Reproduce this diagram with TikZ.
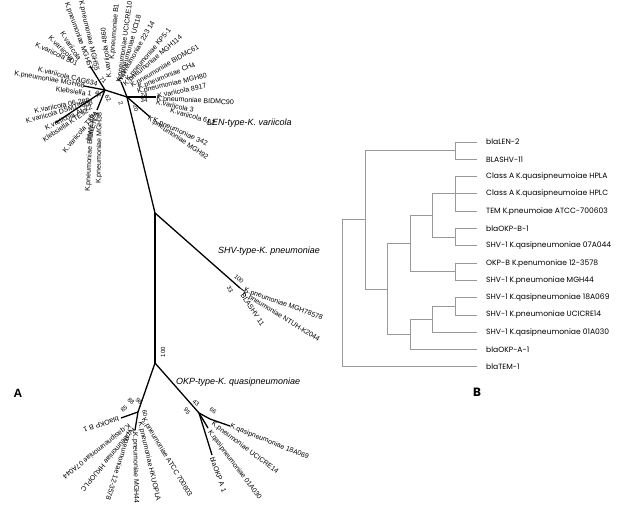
\documentclass[tikz,border=0pt]{standalone}
\usepackage{fontspec}
\setmainfont{Liberation Sans}
\newfontfamily\popfont{Poppins}
\begin{document}
\begin{tikzpicture}[x=1pt,y=-1pt,
  lbl/.style={font=\fontsize{7}{8}\selectfont, inner sep=0.3pt},
  lw/.style={lbl, anchor=west},
  le/.style={lbl, anchor=east},
  boot/.style={font=\fontsize{6}{7}\selectfont, inner sep=0pt},
  br/.style={line width=1.3pt, black},
  clade/.style={font=\fontsize{9}{10}\selectfont\itshape, inner sep=0pt, anchor=west},
  dn/.style={draw=black!40, line width=0.8pt},
  bl/.style={font=\popfont\fontsize{7.6}{9}\selectfont, anchor=west, inner sep=0pt, text=black},
  panel/.style={font=\bfseries\fontsize{12}{14}\selectfont, inner sep=0pt}
]
\useasboundingbox (0,0) rectangle (621,510);

% ---------------- Tree A ----------------
\coordinate (okp) at (155,363);
\coordinate (top) at (155,213);
\coordinate (h1) at (127,97);
\coordinate (shv) at (240,288);
\coordinate (okpA) at (199,413);
\coordinate (okpB) at (138,412);
\draw[br, line width=1.7pt] (top) -- (okp);
\draw[br] (top) -- (h1);
\draw[br] (top) -- (shv);
\draw[br] (okp) -- (okpA);
\draw[br] (okp) -- (okpB);

\node[boot, rotate=90] (b100) at (163,352) {100};
\node[clade] (lenlab) at (207,123) {LEN-type-K. variicola};
\node[clade] (shvlab) at (218,251) {SHV-type-K. pneumoniae};
\node[clade] (okplab) at (176,382) {OKP-type-K. quasipneumoniae};

% SHV cluster
\node[boot, rotate=-40] (s100) at (239,279) {100};
\node[boot, rotate=-60] (s33) at (230,289) {33};
\coordinate (shvtip) at (244,291);
\draw[br, line width=0.8pt] (shv) -- (shvtip);
\node[lw, rotate=-20] (s1) at (244,290) {K.pneumoniae MGH78578};
\node[lw, rotate=-32] (s2) at (243,293) {K.pneumoniae NTUH-K2044};
\node[lw, rotate=-56] (s3) at (242,294) {BLASHV 11};

% OKP-A cluster
\node[boot, rotate=-40] (a43) at (196,403) {43};
\node[boot, rotate=-55] (a95) at (187,411) {95};
\node[boot, rotate=-35] (a66) at (213,411) {66};
\coordinate (a1) at (210,419);
\coordinate (a1t) at (230,426);
\draw[br] (okpA) -- (a1) -- (a1t);
\node[lw, rotate=-22] (qa1) at (a1t) {K.qasipneumoniae 18A069};
\node[lw, rotate=-37] (qa2) at (212,423) {K.pneumoniae UCICRE14};
\coordinate (a3) at (208,428);
\draw[br] (okpA) -- (a3);
\node[lw, rotate=-53] (qa3) at (209,431) {K.qasipneumoniae 01A030};
\coordinate (a4) at (212,455);
\draw[br] (okpA) -- (a4);
\node[lw, rotate=-70] (qa4) at (212,457) {blaOKP A 1};

% OKP-B cluster
\node[boot, rotate=40] (c85) at (124,409) {85};
\node[boot, rotate=-45] (c88) at (131,401) {88};
\node[boot, rotate=-45] (c98) at (139,401) {98};
\node[boot, rotate=-80] (c60) at (145,413) {60};
\coordinate (b1) at (121,418);
\draw[br] (okpB) -- (b1);
\node[lw, rotate=198] (qb1) at (119,419) {blaOKP B 1};
\node[lw, rotate=218] (qb2) at (130,425) {K.qasipneumoniae 07A044};
\node[lw, rotate=230] (qb3) at (134,428) {K.pneumoniae HKUOPLC};
\node[lw, rotate=252] (qb4) at (130,430) {K.pneumoniae 12-3578};
\coordinate (b5) at (135,430);
\draw[br] (okpB) -- (b5);
\node[lw, rotate=271] (qb5) at (135,432) {K.pneumoniae MGH44};
\node[lw, rotate=-77] (qb6) at (140,422) {K.pneumoniae HKUOPLA};
\node[lw, rotate=-59] (qb7) at (143,418) {K.pneumoniae ATCC 700603};

% LEN cluster
\coordinate (h2) at (105,90);
\coordinate (l342) at (150,117);
\coordinate (l89) at (156,97);
\coordinate (lup) at (121,82);
\coordinate (lul) at (90,66);
\coordinate (lkl) at (84,86);
\coordinate (ldn) at (55,123);
\coordinate (lvt) at (97,110);
\draw[br] (h1) -- (l342);
\draw[br] (h1) -- (l89);
\draw[br] (h1) -- (lup);
\draw[br] (h1) -- (h2);
\draw[br] (h2) -- (lul);
\draw[br] (h2) -- (lkl);
\draw[br] (h2) -- (ldn);
\draw[br] (h2) -- (lvt);

\node[lw, rotate=97] (r1) at (109,78) {K.variicola 4860};
\node[lw, rotate=85] (r2) at (112,60) {K.pneumoniae B1};
\node[lw, rotate=82] (r3) at (119,83) {K.pneumoniae UCICRE10};
\node[lw, rotate=74] (r4) at (121,80) {K.pneumoniae UCI18};
\node[lw, rotate=60] (r5) at (119,82) {K.pneumoniae 223 14};
\node[lw, rotate=50] (r6) at (127,81) {K.pneumoniae KP5-1};
\node[lw, rotate=40] (r7) at (124,85) {K.pneumoniae MGH114};
\node[lw, rotate=30] (r8) at (131,86) {K.pneumoniae BIDMC61};
\node[lw, rotate=22] (r9) at (138,88) {K.pneumoniae CH4};
\node[lw, rotate=13] (r10) at (137,92) {K.pneumoniae MGH80};
\node[lw, rotate=12] (r11) at (157,96) {K.variicola 8917};
\node[lw, rotate=-3] (r12) at (156,99) {K.pneumoniae BIDMC90};
\node[lw, rotate=-12] (r13) at (156,102) {K.variicola 3};
\node[lw, rotate=-16] (r14) at (170,110) {K.variicola 6A2};
\node[lw, rotate=-24] (r15) at (153,120) {K.pneumoniae 342};
\node[lw, rotate=-34] (r16) at (148,118) {K.pneumoniae MGH92};

\node[le, rotate=-77] (m1) at (97,71) {K.pneumoniae MGH55};
\node[le, rotate=-70] (m2) at (91,70) {K.pneumoniae MGH57};
\node[le, rotate=-57] (m3) at (80,60) {K.variicola};
\node[le, rotate=-45] (m4) at (73,60) {K.variicola};
\node[le, rotate=-25] (m5) at (78,64) {K.variicola 801};
\node[le, rotate=-14] (m6) at (98,84) {K.variicola CAG634};
\node[le, rotate=-10] (m7) at (85,86) {K.pneumoniae MGH68};
\node[le, rotate=-8] (m8) at (92,94) {Klebsiella 1};
\node[le, rotate=11] (m9) at (90,100) {K.variicola 06-288};
\node[le, rotate=16] (m10) at (93,102) {K.variicola DSM15968};
\node[le, rotate=25] (m11) at (92,106) {K.variicola At-22};
\node[le, rotate=34] (m12) at (88,110) {Klebsiella KTE92};
\node[le, rotate=50] (m13) at (97,112) {K.variicola T29A};
\node[le, rotate=72] (m14) at (97,113) {blaLEN 2};
\node[le, rotate=87] (m15) at (92,114) {K.pneumoniae BIDMC16};
\node[le, rotate=89] (m16) at (100,112) {K.pneumoniae MGH38};

\node[boot, rotate=-70] (k1) at (121,103) {2};
\node[boot, rotate=-80] (k2) at (136,108) {20};
\node[boot] (k3) at (144,100) {34};
\node[boot] (k4) at (144,95) {24};
\node[boot, rotate=-60] (k5) at (98,94) {92};
\node[boot, rotate=-60] (k6) at (108,98) {62};
\node[boot, rotate=-45] (k7) at (103,80) {71};

\node[panel] (pA) at (18,393) {A};

% ---------------- Tree B ----------------
\coordinate (e1) at (477,142.0);
\coordinate (e2) at (477,159.3);
\coordinate (e3) at (477,176.6);
\coordinate (e4) at (477,193.9);
\coordinate (e5) at (477,211.2);
\coordinate (e6) at (477,228.5);
\coordinate (e7) at (477,245.8);
\coordinate (e8) at (477,263.1);
\coordinate (e9) at (477,280.4);
\coordinate (e10) at (477,297.7);
\coordinate (e11) at (477,315.0);
\coordinate (e12) at (477,332.3);
\coordinate (e13) at (477,349.6);
\coordinate (e14) at (477,366.9);

\node[bl] (t1) at (486,142.0) {blaLEN-2};
\node[bl] (t2) at (486,159.3) {BLASHV-11};
\node[bl] (t3) at (486,176.6) {Class A K.quasipneumoiae HPLA};
\node[bl] (t4) at (486,193.9) {Class A K.quasipneumoiae HPLC};
\node[bl] (t5) at (486,211.2) {TEM K.pneumoiae ATCC-700603};
\node[bl] (t6) at (486,228.5) {blaOKP-B-1};
\node[bl] (t7) at (486,245.8) {SHV-1 K.qasipneumoniae 07A044};
\node[bl] (t8) at (486,263.1) {OKP-B K.penumoniae 12-3578};
\node[bl] (t9) at (486,280.4) {SHV-1 K.pneumoniae MGH44};
\node[bl] (t10) at (486,297.7) {SHV-1 K.qasipneumoniae 18A069};
\node[bl] (t11) at (486,315.0) {SHV-1 K.pneumoniae UCICRE14};
\node[bl] (t12) at (486,332.3) {SHV-1 K.qasipneumoniae 01A030};
\node[bl] (t13) at (486,349.6) {blaOKP-A-1};
\node[bl] (t14) at (486,366.9) {blaTEM-1};

\coordinate (nLEN) at (455,150.65);
\coordinate (n35) at (455,193.9);
\coordinate (n67) at (455,237.15);
\coordinate (n37) at (432,215.5);
\coordinate (n89) at (455,271.75);
\coordinate (n39) at (410,243.6);
\coordinate (n1011) at (455,306.35);
\coordinate (n1012) at (432,319.3);
\coordinate (n1013) at (410,334.5);
\coordinate (n313) at (387,289.0);
\coordinate (n113) at (365,219.8);
\coordinate (root) at (342,293.4);

\draw[dn] (nLEN) |- (e1);
\draw[dn] (nLEN) |- (e2);
\draw[dn] (n35) |- (e3);
\draw[dn] (n35) |- (e4);
\draw[dn] (n35) |- (e5);
\draw[dn] (n67) |- (e6);
\draw[dn] (n67) |- (e7);
\draw[dn] (n89) |- (e8);
\draw[dn] (n89) |- (e9);
\draw[dn] (n1011) |- (e10);
\draw[dn] (n1011) |- (e11);
\draw[dn] (n1012) |- (e12);
\draw[dn] (n1013) |- (e13);
\draw[dn] (root) |- (e14);
\draw[dn] (n37) |- (n35);
\draw[dn] (n37) |- (n67);
\draw[dn] (n39) |- (n37);
\draw[dn] (n39) |- (n89);
\draw[dn] (n1012) |- (n1011);
\draw[dn] (n1013) |- (n1012);
\draw[dn] (n313) |- (n39);
\draw[dn] (n313) |- (n1013);
\draw[dn] (n113) |- (nLEN);
\draw[dn] (n113) |- (n313);
\draw[dn] (root) |- (n113);

\node[panel, font=\popfont\bfseries\fontsize{12}{14}\selectfont] (pB) at (477,392) {B};
\end{tikzpicture}
\end{document}
